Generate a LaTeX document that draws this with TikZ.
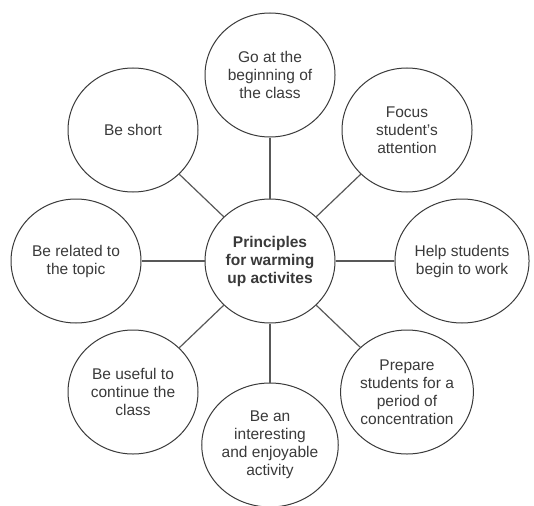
\documentclass[tikz,border=0pt]{standalone}
\usepackage{fontspec}
\setmainfont{Liberation Sans}
\usetikzlibrary{shapes.geometric}
\definecolor{inkgray}{HTML}{3A3A3A}
\begin{document}
\begin{tikzpicture}[x=1pt, y=-1pt, font=\fontsize{15.5}{18}\selectfont,
  bubble/.style={draw=inkgray, line width=1pt, ellipse, minimum width=130pt,
    minimum height=124pt, inner sep=0pt, align=center, text=inkgray, fill=white},
  spoke/.style={draw=inkgray!85, line width=1.2pt}]
\useasboundingbox (0,0) rectangle (534,505);
%centre
\node[bubble, font=\fontsize{15.5}{18}\selectfont\bfseries] (hub) at (270,261)
  {Principles\\for warming\\up activites};
%outer bubbles
\node[bubble] (top) at (270,75) {Go at the\\beginning of\\the class};
\node[bubble] (focus) at (407,130) {Focus\\student's\\attention};
\node[bubble] (help) at (462,261) {Help students\\begin to work};
\node[bubble] (prep) at (407,392) {Prepare\\students for a\\period of\\concentration};
\node[bubble] (enjoy) at (270,445) {Be an\\interesting\\and enjoyable\\activity};
\node[bubble] (useful) at (133,392) {Be useful to\\continue the\\class};
\node[bubble] (topic) at (76,261) {Be related to\\the topic};
\node[bubble] (short) at (133,130) {Be short};
%spokes
\foreach \n in {top,focus,help,prep,enjoy,useful,topic,short}
\draw[spoke] (hub) -- (\n);
\end{tikzpicture}
\end{document}
